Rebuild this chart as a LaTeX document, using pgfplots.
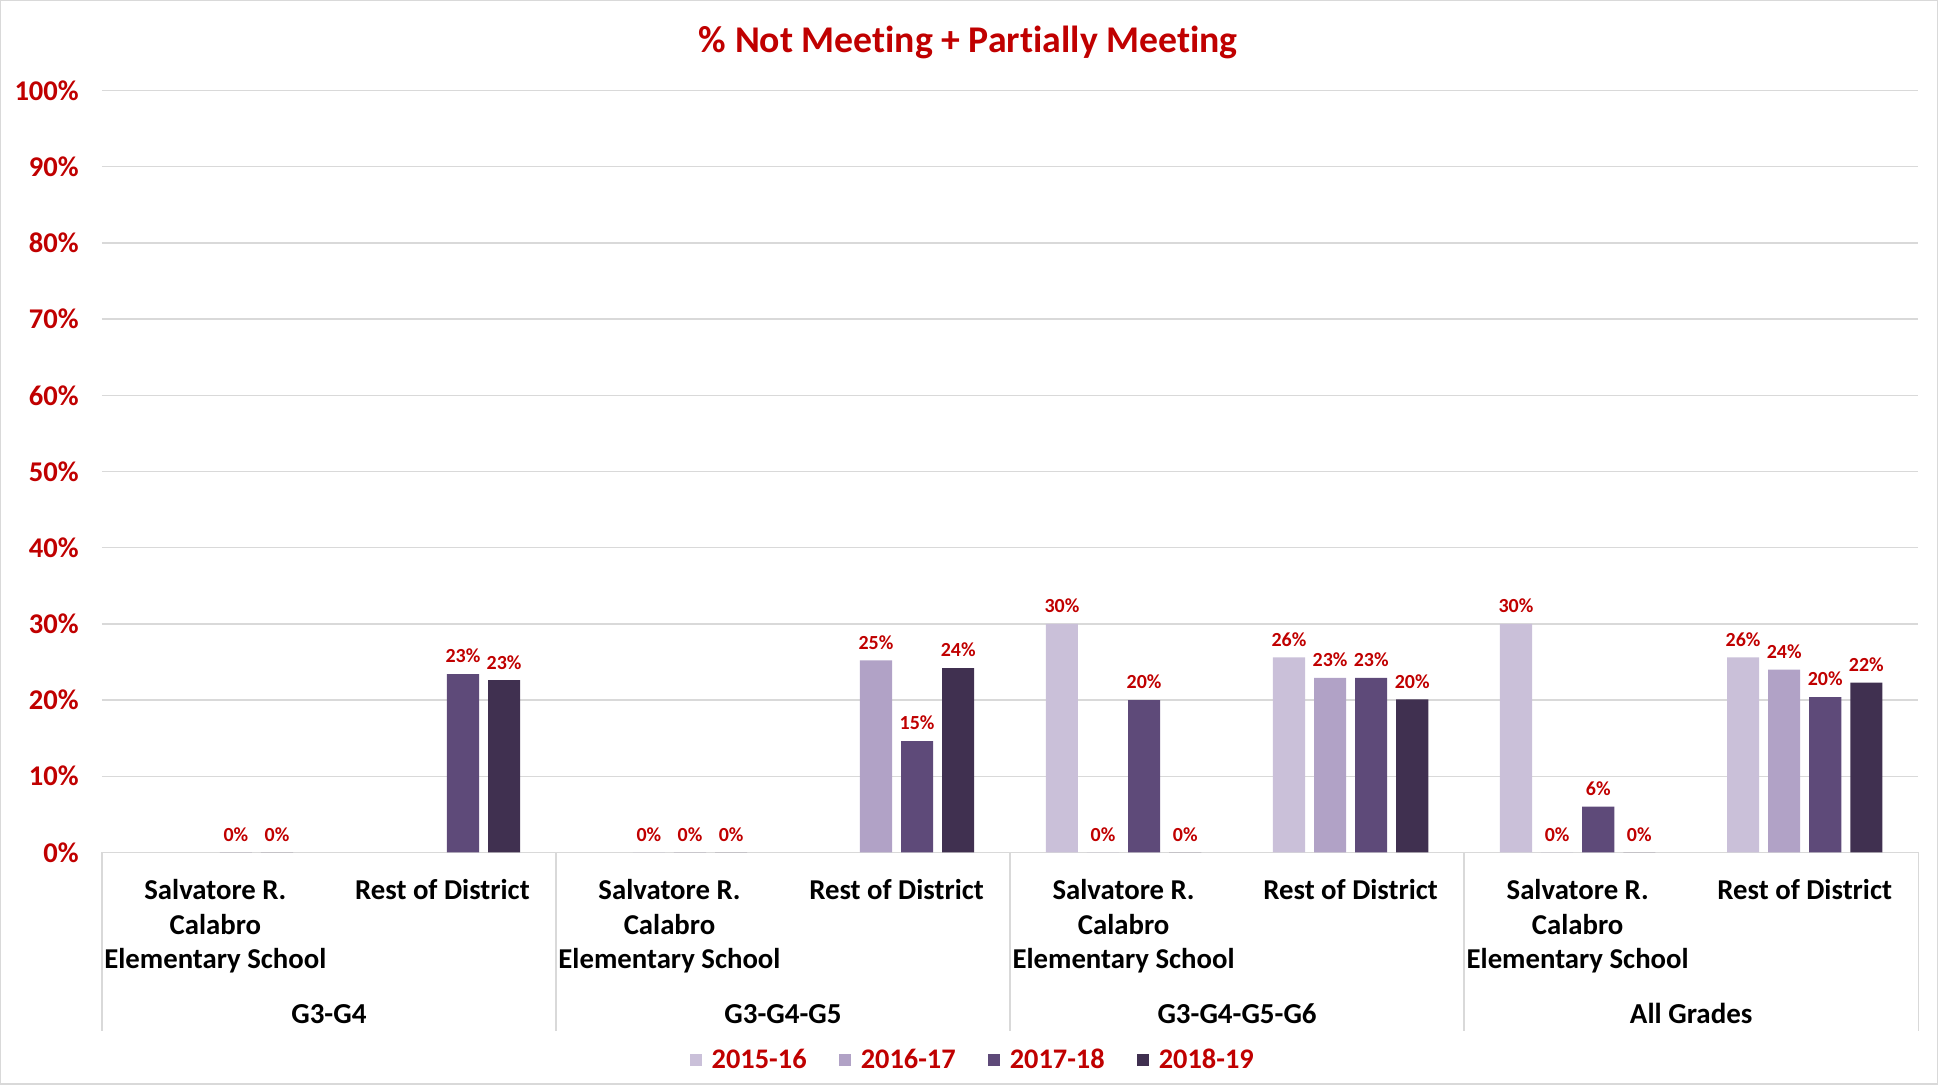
\documentclass[border=0pt]{standalone}
\usepackage{pgfplots}
\pgfplotsset{compat=1.18}
\usepackage{fontspec}
\setmainfont{Carlito}[Ligatures=NoCommon]
\definecolor{labred}{HTML}{C00000}
\definecolor{cA}{HTML}{CAC0D9}
\definecolor{cB}{HTML}{B1A2C6}
\definecolor{cC}{HTML}{5E4A79}
\definecolor{cD}{HTML}{403050}
\definecolor{gridc}{HTML}{D9D9D9}
\begin{document}
\begin{tikzpicture}
\begin{axis}[
  scale only axis,
  width=906bp, height=380bp,
  xmin=-0.5, xmax=7.5, ymin=0, ymax=100,
  enlargelimits=false,
  clip=false,
  /pgf/number format/assume math mode=true,
  axis line style={draw=none},
  separate axis lines,
  ymajorgrids, grid style={gridc, line width=0.7pt},
  ytick={0,10,...,100},
  yticklabel={\pgfmathprintnumber{\tick}\%},
  yticklabel style={font=\bfseries\fontsize{14.3}{16}\selectfont, text=labred, xshift=-8bp},
  major tick length=0pt,
  tick align=outside,
  xtick pos=bottom, ytick pos=left,
  tick style={gridc, line width=0.7pt},
  xtick={0,...,7},
  xticklabels={{Salvatore R.\\Calabro\\Elementary School},{Rest of District},{Salvatore R.\\Calabro\\Elementary School},{Rest of District},{Salvatore R.\\Calabro\\Elementary School},{Rest of District},{Salvatore R.\\Calabro\\Elementary School},{Rest of District}},
  xticklabel style={font=\bfseries\fontsize{14.4}{17.3}\selectfont, align=center, anchor=north, yshift=-10bp},
  extra x ticks={-0.5,1.5,3.5,5.5,7.5},
  extra x tick labels={},
  extra x tick style={grid=none, major tick length=89bp},
  ybar, bar width=16bp,
  nodes near coords={\pgfmathprintnumber[fixed,precision=0]{\pgfplotspointmeta}\%},
  every node near coord/.append style={font=\bfseries\fontsize{10}{11}\selectfont, text=labred, yshift=2bp},
  legend style={at={(0.48,-0.2724)}, anchor=center, draw=none, legend columns=4,
    font=\bfseries\fontsize{14.2}{16}\selectfont, text=labred,
    /tikz/every even column/.append style={column sep=14bp}},
  legend image code/.code={\path[#1] (0bp,-3bp) rectangle (6bp,3bp); \path (0bp,0bp) (9bp,0bp);},
]
\addplot[fill=cA, draw=none, bar shift=-30.75bp] coordinates {(4,30) (5,25.6) (6,30) (7,25.6)};
\addplot[fill=cB, draw=none, bar shift=-10.25bp] coordinates {(2,0) (3,25.2) (4,0) (5,22.9) (6,0) (7,24.0)};
\addplot[fill=cC, draw=none, bar shift=10.25bp] coordinates {(0,0) (1,23.4) (2,0) (3,14.6) (4,20) (5,22.9) (6,6) (7,20.4)};
\addplot[fill=cD, draw=none, bar shift=30.75bp] coordinates {(0,0) (1,22.6) (2,0) (3,24.2) (4,0) (5,20.1) (6,0) (7,22.3)};
\legend{2015-16,2016-17,2017-18,2018-19}
\node[font=\bfseries\fontsize{14.5}{16}\selectfont] at ([yshift=-80.5bp]axis cs:0.5,0) {G3-G4};
\node[font=\bfseries\fontsize{14.5}{16}\selectfont] at ([yshift=-80.5bp]axis cs:2.5,0) {G3-G4-G5};
\node[font=\bfseries\fontsize{14.5}{16}\selectfont] at ([yshift=-80.5bp]axis cs:4.5,0) {G3-G4-G5-G6};
\node[font=\bfseries\fontsize{14.5}{16}\selectfont] at ([yshift=-80.5bp]axis cs:6.5,0) {All Grades};
\node[font=\bfseries\fontsize{18.9}{21}\selectfont, text=labred] at (axis description cs:0.477,1.063) {\% Not Meeting + Partially Meeting};
\draw[gridc, line width=0.7pt] (axis description cs:-0.0557,-0.304) rectangle (axis description cs:1.0105,1.118);
\end{axis}
\end{tikzpicture}
\end{document}
